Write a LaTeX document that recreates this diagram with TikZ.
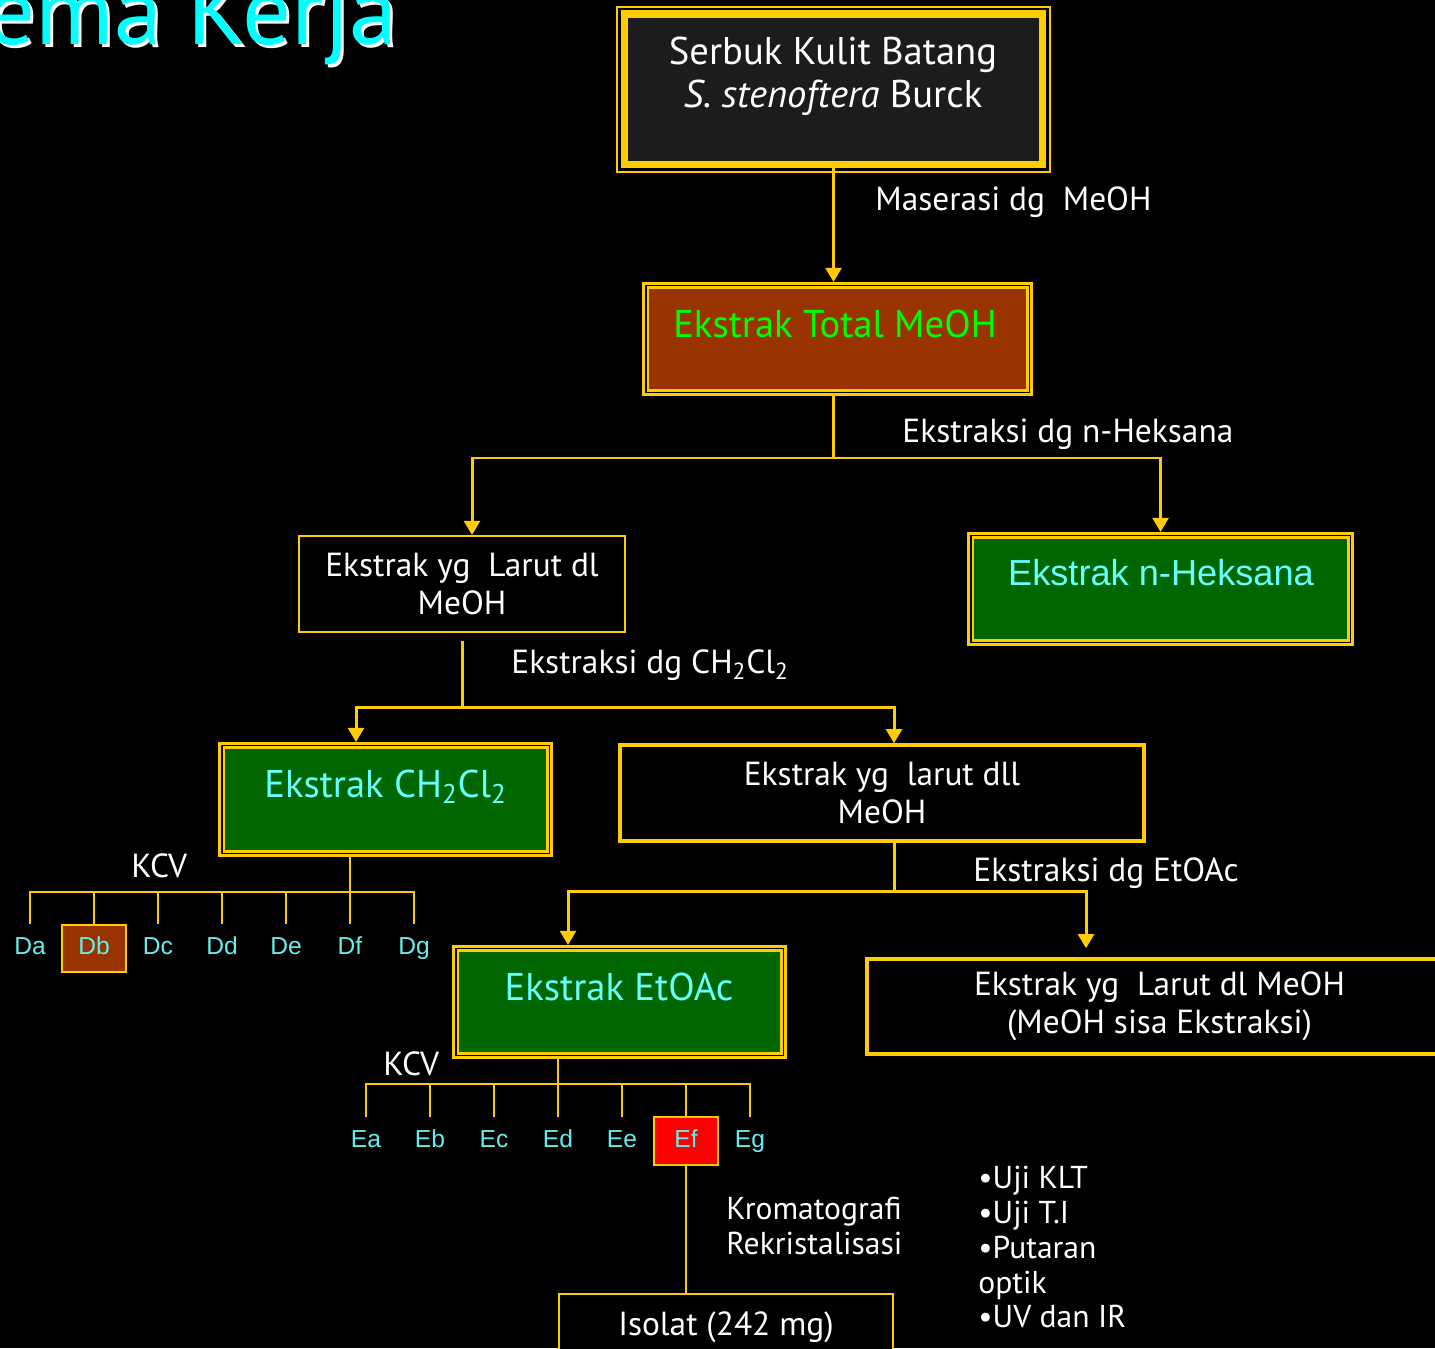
\documentclass[tikz,border=0pt]{standalone}
\usepackage{fontspec}
\usepackage{tikz}
\usetikzlibrary{arrows.meta}
\setmainfont{PT Sans}
\newfontfamily\arialfont{Liberation Sans}
\newcommand{\bxfont}{\fontsize{22}{24.4}\selectfont}
\newcommand{\ntfont}{\fontsize{19}{21.5}\selectfont}

\begin{document}
\begin{tikzpicture}[x=0.02cm, y=-0.02cm]
    % Define colours
    \definecolor{gold}{RGB}{255,204,0}
    \definecolor{boxbrown}{RGB}{153,51,0}
    \definecolor{boxgreen}{RGB}{0,102,0}
    \definecolor{boxdark}{RGB}{28,28,28}
    \definecolor{titlecyan}{RGB}{0,255,255}
    \definecolor{txtcyan}{RGB}{102,255,255}
    \definecolor{txtgreen}{RGB}{0,255,0}
    \definecolor{labcyan}{RGB}{102,238,238}
    % Define styles
    \tikzset{
        arr/.style={draw=gold, line width=1.7pt, -{Triangle[width=9pt,length=8pt]}},
        link/.style={draw=gold, line width=1.7pt},
        tick/.style={draw=gold, line width=1.1pt},
        dblbox/.style={draw=gold, double=black, double distance=1.1pt, line width=1.4pt, outer sep=2pt, inner sep=0pt},
        plainbox/.style={draw=gold, fill=black, text=white, font=\ntfont, align=center, inner sep=0pt},
        head/.style={font=\bxfont, inner sep=0pt, anchor=base},
        note/.style={text=white, font=\ntfont, inner sep=0pt, anchor=base west},
        frac/.style={minimum width=1.28cm, minimum height=0.95cm, text height=10pt, text depth=3pt, inner sep=0pt, text=labcyan, font=\arialfont\fontsize{14}{16}\selectfont}
    }

    % Background
    \useasboundingbox (0,0) rectangle (1435,1348);
    \clip (0,0) rectangle (1435,1348);
    \fill[black] (0,0) rectangle (1435,1348);

    % Title
    \node[anchor=base east, inner sep=0pt, text=white, font=\fontsize{55}{60}\selectfont] (titleshade) at (401,48) {Skema Kerja};
    \node[anchor=base east, inner sep=0pt, text=titlecyan, font=\fontsize{55}{60}\selectfont] (title) at (398,45) {Skema Kerja};

    % 1. Serbuk kulit batang
    \node[draw=gold, fill=boxdark, line width=4pt, outer sep=0pt, minimum width=8.38cm, minimum height=3.02cm] (serbuk) at (833.5,89.5) {};
    \draw[gold, line width=0.9pt] ([shift={(-7,7)}]serbuk.south west) rectangle ([shift={(7,-7)}]serbuk.north east);
    \node[anchor=north, align=center, inner sep=0pt, text=white, font=\bxfont] (serbukt) at (833,37) {Serbuk Kulit Batang\\\textit{S. stenoftera} Burck};

    % 2. Ekstrak total
    \node[dblbox, fill=boxbrown, minimum width=7.68cm, minimum height=2.14cm] (total) at (837.5,339) {};
    \node[head, text=txtgreen] (totalt) at (835,337) {Ekstrak Total MeOH};
    \draw[arr] (serbuk.south) -- (serbuk.south |- total.north);
    \node[note] (mas) at (875,211) {Maserasi dg~~MeOH};

    % 3. n-Heksana
    \node[plainbox, line width=1.1pt, minimum width=6.52cm, minimum height=1.92cm] (larut1) at (462,584) {Ekstrak yg~~Larut dl\\MeOH};
    \node[dblbox, fill=boxgreen, minimum width=7.6cm, minimum height=2.14cm] (heks) at (1160.5,589) {};
    \node[head, text=txtcyan, font=\arialfont\fontsize{20.6}{24}\selectfont] (hekst) at (1161,585) {Ekstrak n-Heksana};
    \coordinate (s1) at (833,458);
    \draw[link] (s1 |- total.south) -- (s1);
    \draw[arr] (s1) -| ([xshift=0.2cm]larut1.north);
    \draw[arr] (s1) -| (heks.north);
    \node[note] (nheks) at (902,442) {Ekstraksi dg n-Heksana};

    % 4. CH2Cl2
    \node[dblbox, fill=boxgreen, minimum width=6.56cm, minimum height=2.16cm] (ch) at (385.5,799.5) {};
    \node[head, text=txtcyan] (cht) at (385.5,797) {Ekstrak CH\textsubscript{2}Cl\textsubscript{2}};
    \node[plainbox, line width=2pt, minimum width=10.48cm, minimum height=1.92cm] (larut2) at (882,793) {Ekstrak yg~~larut dll\\MeOH};
    \coordinate (s2) at (462,707);
    \draw[link] ([yshift=-0.16cm]larut1.south) -- (s2);
    \draw[arr] (s2) -| ([xshift=-0.59cm]ch.north);
    \draw[arr] (s2) -| ([xshift=0.24cm]larut2.north);
    \node[note] (nch) at (511,673) {Ekstraksi dg CH\textsubscript{2}Cl\textsubscript{2}};

    % 5. EtOAc
    \node[dblbox, fill=boxgreen, minimum width=6.56cm, minimum height=2.14cm] (etoac) at (619.5,1002) {};
    \node[head, text=txtcyan] (etoact) at (619,1000) {Ekstrak EtOAc};
    \node[plainbox, line width=2pt, minimum width=11.7cm, minimum height=1.9cm] (sisa) at (1159.5,1006.5) {Ekstrak yg~~Larut dl MeOH\\(MeOH sisa Ekstraksi)};
    \coordinate (s3) at (894,891);
    \draw[link] (s3 |- larut2.south) -- (s3);
    \draw[arr] (s3) -| ([xshift=-1.03cm]etoac.north);
    \draw[arr] (s3) -| ([xshift=-1.47cm, yshift=0.18cm]sisa.north);
    \node[note] (netoac) at (973,881) {Ekstraksi dg EtOAc};

    % 6. KCV fractions Da - Dg
    \coordinate (dhub) at (350,892);
    \draw[tick] (dhub |- ch.south) -- (dhub);
    \foreach \n [count=\i from 0] in {a,b,c,d,e,f,g} {
        \ifnum\i=1
            \node[frac, draw=gold, fill=boxbrown, line width=1.1pt] (d\n) at (30+64*\i,948.5) {D\n};
        \else
            \node[frac] (d\n) at (30+64*\i,948.5) {D\n};
        \fi
        \draw[tick] (dhub) -| (d\n.north);
    }
    \node[note] (kcv1) at (131,877) {KCV};

    % 7. KCV fractions Ea - Eg
    \coordinate (ehub) at (558,1084);
    \draw[tick] (ehub |- etoac.south) -- (ehub);
    \foreach \n [count=\i from 0] in {a,b,c,d,e,f,g} {
        \ifnum\i=5
            \node[frac, draw=gold, fill=red, line width=1.1pt] (e\n) at (366+64*\i,1141) {E\n};
        \else
            \node[frac] (e\n) at (366+64*\i,1141) {E\n};
        \fi
        \draw[tick] (ehub) -| (e\n.north);
    }
    \node[note] (kcv2) at (383,1075) {KCV};

    % 8. Isolat
    \node[plainbox, line width=1.4pt, minimum width=6.68cm, minimum height=1.32cm] (isolat) at (726,1327) {Isolat (242 mg)};
    \draw[tick] (ef.south) -- (ef.south |- isolat.north);
    \node[note, anchor=north west, align=left, font=\fontsize{18}{19.8}\selectfont] (krom) at (726,1197) {Kromatografi\\Rekristalisasi};
    \node[note, anchor=north west, align=left, font=\fontsize{18}{19.8}\selectfont] (uji) at (978,1166) {•Uji KLT\\•Uji T.I\\•Putaran\\optik\\•UV dan IR};
\end{tikzpicture}
\end{document}
